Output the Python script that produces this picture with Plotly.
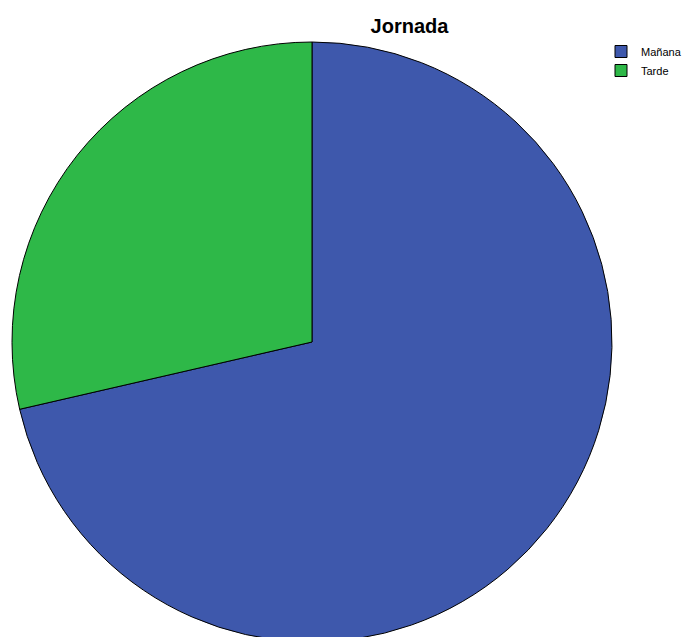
import plotly.graph_objects as go

labels = ["Mañana", "Tarde"]
values = [71.4, 28.6]
colors = ["#3E58AC", "#2EB848"]

fig = go.Figure(go.Pie(
    labels=labels,
    values=values,
    sort=False,
    direction="clockwise",
    rotation=0,
    textinfo="none",
    hoverinfo="label+percent",
    marker=dict(colors=colors, line=dict(color="#000000", width=1)),
))

fig.update_layout(
    autosize=False,
    width=683,
    height=650,
    margin=dict(l=12, r=71, t=42, b=8, pad=0, autoexpand=False),
    paper_bgcolor="white",
    plot_bgcolor="white",
    title=dict(text="<b>Jornada</b>", x=409.5/683, xref="container", xanchor="center",
               y=1 - 26/650, yref="container", yanchor="middle",
               font=dict(family="Liberation Sans, Arial", size=20, color="#000000")),
    legend=dict(x=601/683, xref="container", y=1 - 37/650, yref="container",
                xanchor="left", yanchor="top",
                font=dict(family="Liberation Sans, Arial", size=11, color="#000000"),
                itemwidth=30, tracegroupgap=0, bgcolor="rgba(0,0,0,0)"),
    showlegend=True,
)

fig.write_html("out.html", config={"displayModeBar": False},
               post_script="document.body.style.margin='0';document.body.style.overflow='hidden';")
